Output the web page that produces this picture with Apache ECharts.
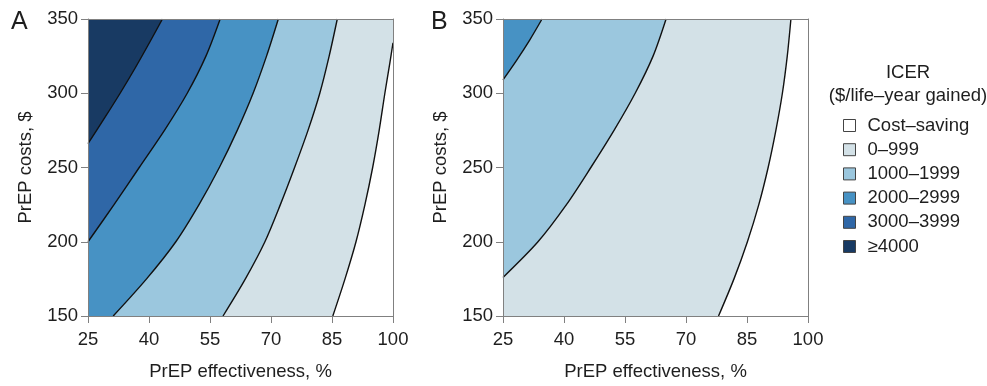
<!DOCTYPE html>
<html>
<head>
<meta charset="utf-8">
<script src="https://cdn.jsdelivr.net/npm/echarts@6/dist/echarts.min.js"></script>
<style>
  html, body { margin: 0; padding: 0; background: #fff; }
  #chart { width: 987px; height: 386px; }
</style>
</head>
<body>
<div id="chart"></div>
<script>
// axis ranges
const X_MIN = 25, X_MAX = 100, X_STEP = 15;
const Y_MIN = 150, Y_MAX = 350, Y_STEP = 50;

// ICER bands (legend order)
const bandNames = ['Cost–saving', '0–999', '1000–1999', '2000–2999', '3000–3999', '≥4000'];
const bandColors = ['#ffffff', '#d3e1e7', '#9bc7de', '#4792c4', '#2f67a7', '#183a63'];

// contour lines: [effectiveness %, cost $]
// panel A
const contourA0 = [[85.2, 150], [88.2, 175], [90.9, 200], [93.1, 225], [95.0, 250], [96.6, 275], [98.0, 300], [99.2, 320], [100, 334]];
const contourA1000 = [[58.2, 150], [63.7, 175], [68.5, 200], [72.3, 225], [75.8, 250], [79.1, 275], [82.0, 300], [84.3, 325], [86.3, 350]];
const contourA2000 = [[31.2, 150], [39.4, 175], [46.6, 200], [52.3, 225], [57.3, 250], [61.7, 275], [65.6, 300], [68.9, 325], [71.8, 350]];
const contourA3000 = [[25, 200], [31.4, 225], [37.6, 250], [43.8, 275], [49.4, 300], [54.0, 325], [57.5, 350]];
const contourA4000 = [[25, 266], [29.0, 283], [32.9, 300], [36.6, 317], [40.1, 334], [43.3, 350]];
// panel B
const contourB0 = [[78.0, 150], [81.8, 175], [85.1, 200], [87.9, 225], [90.2, 250], [92.1, 275], [93.7, 300], [94.9, 325], [95.8, 350]];
const contourB1000 = [[25, 176], [33.6, 200], [40.6, 225], [46.6, 250], [52.3, 275], [57.5, 300], [61.9, 325], [65.1, 350]];
const contourB2000 = [[25, 309], [28.3, 322], [31.6, 336], [34.6, 350]];

const panels = [
  { label: 'A', left: 88, contours: [contourA0, contourA1000, contourA2000, contourA3000, contourA4000] },
  { label: 'B', left: 503, contours: [contourB0, contourB1000, contourB2000] },
];

const FONT = 'Liberation Sans, Arial, Helvetica, sans-serif';
const FS = 18.5;
const TEXT = '#1e1e1e';
const FRAME = '#808080';

// fill everything up-left of a contour line
function fillLeftOf(params, api) {
  if (params.dataIndexInside !== 0) return null;
  const n = params.dataInsideLength;
  const pts = [];
  for (let i = 0; i < n; i++) {
    pts.push(api.coord([api.value(0, i), api.value(1, i)]));
  }
  const firstY = api.value(1, 0);
  const lastX = api.value(0, n - 1);
  if (lastX >= X_MAX) pts.push(api.coord([X_MAX, Y_MAX]));
  pts.push(api.coord([X_MIN, Y_MAX]));
  if (firstY <= Y_MIN) pts.push(api.coord([X_MIN, Y_MIN]));
  return {
    type: 'polygon',
    shape: { points: pts },
    style: { fill: api.visual('color') },
  };
}

const grid = [];
const xAxis = [];
const yAxis = [];
const series = [];

panels.forEach((p, i) => {
  grid.push({
    left: p.left,
    top: 19,
    width: 305,
    height: 305,
    containLabel: false,
  });

  // bottom / left axes with ticks and labels
  xAxis.push({
    gridIndex: i,
    type: 'value',
    min: X_MIN,
    max: X_MAX,
    interval: X_STEP,
    name: 'PrEP effectiveness, %',
    nameLocation: 'middle',
    nameGap: 46,
    nameTextStyle: { fontSize: FS, color: TEXT, fontFamily: FONT },
    axisLine: { show: true, lineStyle: { color: FRAME, width: 1 } },
    axisTick: { show: true, length: 7, lineStyle: { color: FRAME } },
    axisLabel: { fontSize: FS, color: TEXT, fontFamily: FONT, margin: 14 },
    splitLine: { show: false },
    z: 10,
  });
  yAxis.push({
    gridIndex: i,
    type: 'value',
    min: Y_MIN,
    max: Y_MAX,
    interval: Y_STEP,
    name: 'PrEP costs, $',
    nameLocation: 'middle',
    nameGap: 53,
    nameTextStyle: { fontSize: FS, color: TEXT, fontFamily: FONT },
    axisLine: { show: true, lineStyle: { color: FRAME, width: 1 } },
    axisTick: { show: true, length: 7, lineStyle: { color: FRAME } },
    axisLabel: { fontSize: FS, color: TEXT, fontFamily: FONT, margin: 10 },
    splitLine: { show: false },
    z: 10,
  });

  // the fills
  p.contours.forEach((c, k) => {
    series.push({
      name: bandNames[k + 1],
      type: 'custom',
      xAxisIndex: i,
      yAxisIndex: i,
      clip: true,
      silent: true,
      itemStyle: { color: bandColors[k + 1] },
      encode: { x: 0, y: 1 },
      renderItem: fillLeftOf,
      data: c,
      z: 2,
    });
  });
  // the contour lines on top
  p.contours.forEach((c) => {
    series.push({
      type: 'line',
      xAxisIndex: i,
      yAxisIndex: i,
      data: c,
      smooth: 0.3,
      symbol: 'none',
      silent: true,
      lineStyle: { color: '#111', width: 1.4 },
      z: 4,
    });
  });
});

// top / right frame lines
panels.forEach((p, i) => {
  xAxis.push({
    gridIndex: i, type: 'value', position: 'top', min: X_MIN, max: X_MAX,
    axisLine: { show: true, lineStyle: { color: FRAME, width: 1 } },
    axisTick: { show: false }, axisLabel: { show: false }, splitLine: { show: false }, z: 10,
  });
  yAxis.push({
    gridIndex: i, type: 'value', position: 'right', min: Y_MIN, max: Y_MAX,
    axisLine: { show: true, lineStyle: { color: FRAME, width: 1 } },
    axisTick: { show: false }, axisLabel: { show: false }, splitLine: { show: false }, z: 10,
  });
});

// legend entry for the white region
series.push({
  name: bandNames[0],
  type: 'custom',
  itemStyle: { color: bandColors[0] },
  renderItem: () => null,
  data: [],
});

const chart = echarts.init(document.getElementById('chart'), null, { renderer: 'canvas' });

chart.setOption({
  animation: false,
  backgroundColor: '#fff',
  textStyle: { fontFamily: FONT },
  grid,
  xAxis,
  yAxis,
  legend: {
    data: bandNames,
    orient: 'vertical',
    left: 843,
    top: 116,
    padding: 0,
    itemGap: 5.2,
    itemWidth: 12,
    itemHeight: 12,
    icon: 'rect',
    itemStyle: { borderColor: '#444', borderWidth: 1 },
    textStyle: { fontSize: FS, color: TEXT, fontFamily: FONT, padding: [0, 0, 0, 7] },
    selectedMode: false,
  },
  graphic: [
    { type: 'text', left: 11, top: 10, style: { text: 'A', font: '25px ' + FONT, fill: TEXT } },
    { type: 'text', left: 431, top: 10, style: { text: 'B', font: '25px ' + FONT, fill: TEXT } },
    { type: 'text', x: 908, y: 73, style: { text: 'ICER', font: FS + 'px ' + FONT, fill: TEXT, textAlign: 'center', textVerticalAlign: 'middle' } },
    { type: 'text', x: 908, y: 96, style: { text: '($/life–year gained)', font: FS + 'px ' + FONT, fill: TEXT, textAlign: 'center', textVerticalAlign: 'middle' } },
  ],
  series,
});

window.addEventListener('resize', () => chart.resize());
</script>
</body>
</html>
